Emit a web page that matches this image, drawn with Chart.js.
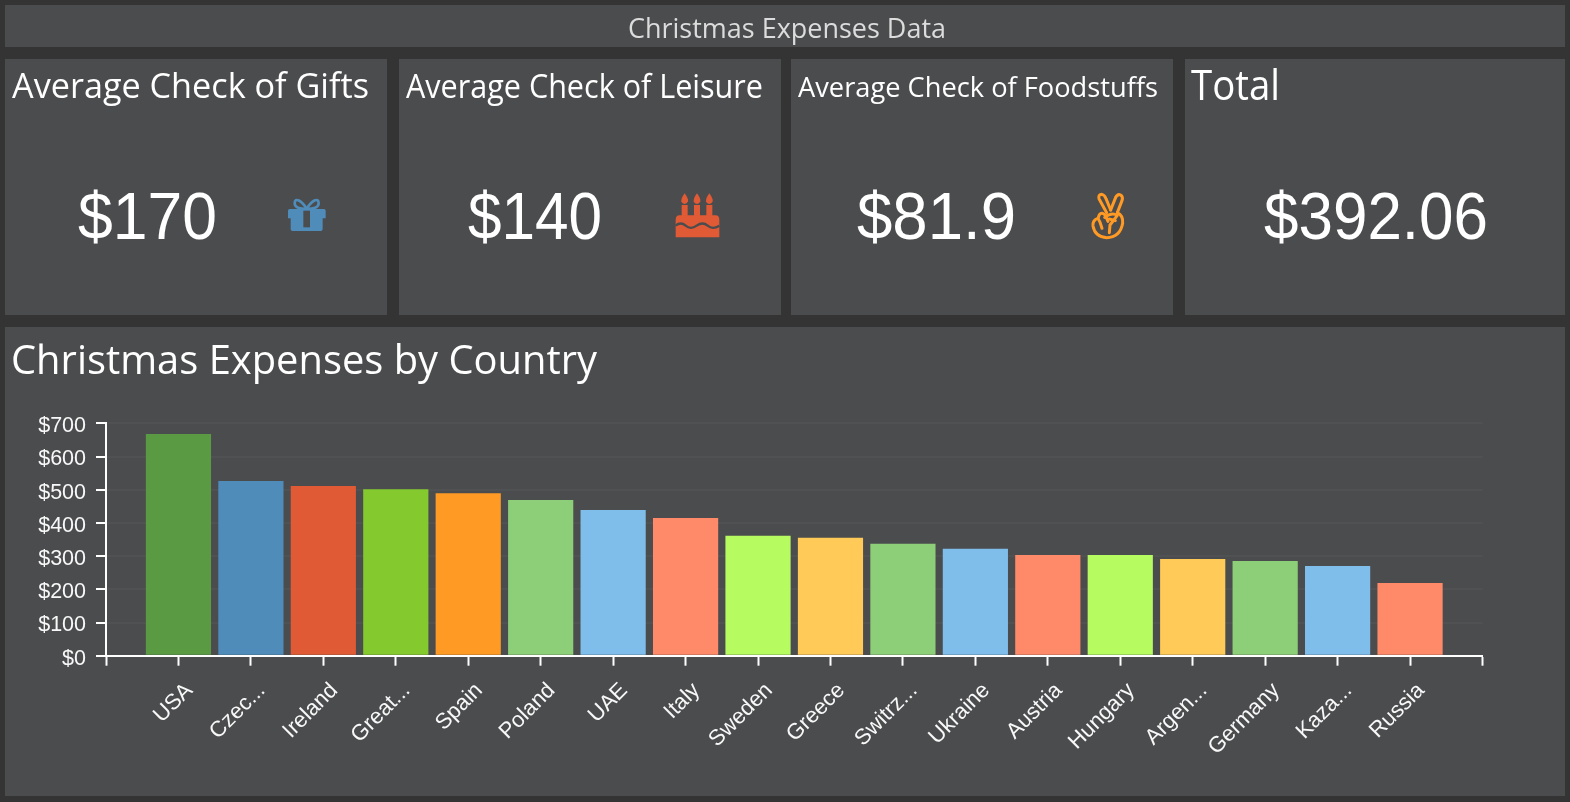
<!DOCTYPE html>
<html><head><meta charset="utf-8">
<script src="https://cdn.jsdelivr.net/npm/chart.js@4"></script>
<style>
html,body{margin:0;padding:0;background:#343434;width:1570px;height:802px;overflow:hidden}
.panel{position:absolute;background:#4b4c4e}
#chartWrap{position:absolute;left:5px;top:327px;width:1560px;height:469px}
#overlay{position:absolute;left:0;top:0;pointer-events:none}
.head{font-family:"Open Sans","Noto Sans",sans-serif;font-weight:400;fill:#fff}
.big{font-family:"Liberation Sans",Arial,sans-serif;font-size:66px;fill:#fff}
</style></head><body>
<div class="panel" style="left:5px;top:5px;width:1560px;height:42px"></div>
<div class="panel" style="left:5px;top:59px;width:382px;height:256px"></div>
<div class="panel" style="left:399px;top:59px;width:382px;height:256px"></div>
<div class="panel" style="left:791px;top:59px;width:382px;height:256px"></div>
<div class="panel" style="left:1185px;top:59px;width:380px;height:256px"></div>
<div class="panel" style="left:5px;top:327px;width:1560px;height:469px"></div>
<div id="chartWrap"><canvas id="c" width="1560" height="469" style="display:block;width:1560px;height:469px"></canvas></div>
<svg id="overlay" width="1570" height="802" xmlns="http://www.w3.org/2000/svg">
<text class="head" x="628" y="38" font-size="27" textLength="318" lengthAdjust="spacingAndGlyphs" style="fill:#dcdcdc">Christmas Expenses Data</text>
<text class="head" x="12" y="98" font-size="35" textLength="357" lengthAdjust="spacingAndGlyphs">Average Check of Gifts</text>
<text class="head" x="406" y="98" font-size="33" textLength="357" lengthAdjust="spacingAndGlyphs">Average Check of Leisure</text>
<text class="head" x="798" y="97" font-size="28" textLength="360" lengthAdjust="spacingAndGlyphs">Average Check of Foodstuffs</text>
<text class="head" x="1191" y="100" font-size="42" textLength="89" lengthAdjust="spacingAndGlyphs">Total</text>
<text class="head" x="11" y="374" font-size="41" textLength="586" lengthAdjust="spacingAndGlyphs">Christmas Expenses by Country</text>
<text class="big" x="78" y="239" textLength="139" lengthAdjust="spacingAndGlyphs">$170</text>
<text class="big" x="468" y="239" textLength="134" lengthAdjust="spacingAndGlyphs">$140</text>
<text class="big" x="857" y="239" textLength="159" lengthAdjust="spacingAndGlyphs">$81.9</text>
<text class="big" x="1264" y="239" textLength="224" lengthAdjust="spacingAndGlyphs">$392.06</text>
<!-- gift -->
<g transform="translate(270,180) scale(.33333)">
<path fill="none" stroke="#4f8cba" stroke-width="8" d="M110 87 C96 62 74 50 74 70 C74 86 94 87 110 87 C126 87 146 86 146 70 C146 50 124 62 110 87Z"/>
<path fill="#4f8cba" d="M54 92 Q54 87 59 87 H162 Q167 87 167 92 V115 H158 V146 Q158 153 150 153 H70 Q62 153 62 146 V115 H54 Z"/>
<rect x="100" y="92" width="20" height="50" fill="#4b4c4e"/>
</g>
<!-- cake -->
<g transform="translate(660,180) scale(.33333)" fill="#df5a35">
<path d="M74 40 Q86 57 84 64 Q81 72 74 72 Q66 72 64 64 Q63 55 74 40Z"/>
<path d="M111 40 Q123 57 121 64 Q118 72 111 72 Q103 72 101 64 Q100 55 111 40Z"/>
<path d="M148 40 Q160 57 158 64 Q155 72 148 72 Q140 72 138 64 Q137 55 148 40Z"/>
<rect x="65" y="75" width="18" height="35"/><rect x="102" y="75" width="18" height="35"/><rect x="139" y="75" width="18" height="35"/>
<path d="M47 120 Q47 106 58 106 H167 Q178 106 178 120 V172 H47Z"/>
<path d="M47 137 Q62 124 77 137 T110 137 T143 137 T178 137" fill="none" stroke="#4b4c4e" stroke-width="7"/>
</g>
<!-- peace hand -->
<g transform="translate(1070,180) scale(.33333)" fill="none" stroke="#ff9a24" stroke-width="9" stroke-linejoin="round" stroke-linecap="round">
<path d="M110 98 L87 56 Q84 43 96 43 Q104 45 108 56 L122 90"/>
<path d="M122 90 L137 52 Q143 41 152 45 Q160 50 156 62 L142 98"/>
<path d="M142 98 Q160 106 158 130 Q150 173 110 173 Q75 171 69 138 Q67 120 84 115 L88 104 Q96 95 106 106 L114 124"/>
<path d="M84 115 Q92 128 96 145"/>
<path d="M104 112 Q125 96 142 106 L120 135 L118 158"/>
<path d="M118 117 L136 122"/>
</g>
</svg>
<script>
const categories = ["USA","Czec...","Ireland","Great...","Spain","Poland","UAE","Italy","Sweden","Greece","Switrz...","Ukraine","Austria","Hungary","Argen...","Germany","Kaza...","Russia"];
const expenses = [668,526,511,501,489,469,439,415,361,355,337,322,303,303,291,285,270,219];
const barColors = ["#5a9a43","#4f8cba","#df5a35","#84ca2e","#ff9a24","#8dce78","#7fbdeb","#ff8a69","#b6fb60","#ffca58","#8dce78","#7fbdeb","#ff8a69","#b6fb60","#ffca58","#8dce78","#7fbdeb","#ff8a69"];
const yMax = 700, yStep = 100;

new Chart(document.getElementById('c'), {
  type: 'bar',
  data: {
    labels: ['', ...categories, ''],
    datasets: [{ data: [null, ...expenses, null], backgroundColor: [null, ...barColors, null], borderWidth: 0, barPercentage: 0.9, categoryPercentage: 1 }]
  },
  options: {
    responsive: false, animation: false, devicePixelRatio: 1,
    layout: { padding: { left: 0, top: 96.3, right: 82.5, bottom: 0 } },
    plugins: { legend: { display: false }, tooltip: { enabled: false }, title: { display: false } },
    scales: {
      x: {
        type: 'category', offset: false,
        afterFit: s => { s.height = 140.3; },
        border: { color: '#ffffff', width: 2 },
        grid: { offset: false, drawOnChartArea: false, tickColor: '#ffffff', tickLength: 10, tickWidth: 2 },
        ticks: { color: '#f8f8f8', autoSkip: false, minRotation: 45, maxRotation: 45, labelOffset: 11, padding: 12, font: { family: '"Liberation Sans", Arial, sans-serif', size: 22 } }
      },
      y: {
        min: 0, max: yMax,
        afterFit: s => { s.width = 101; },
        border: { color: '#ffffff', width: 2 },
        grid: { color: '#505153', lineWidth: 2, tickColor: '#ffffff', tickLength: 10, tickWidth: 2 },
        ticks: { stepSize: yStep, color: '#f8f8f8', padding: 10, labelOffset: 3, callback: v => '$' + v, font: { family: '"Liberation Sans", Arial, sans-serif', size: 21.5 } }
      }
    }
  }
});
</script>
</body></html>
